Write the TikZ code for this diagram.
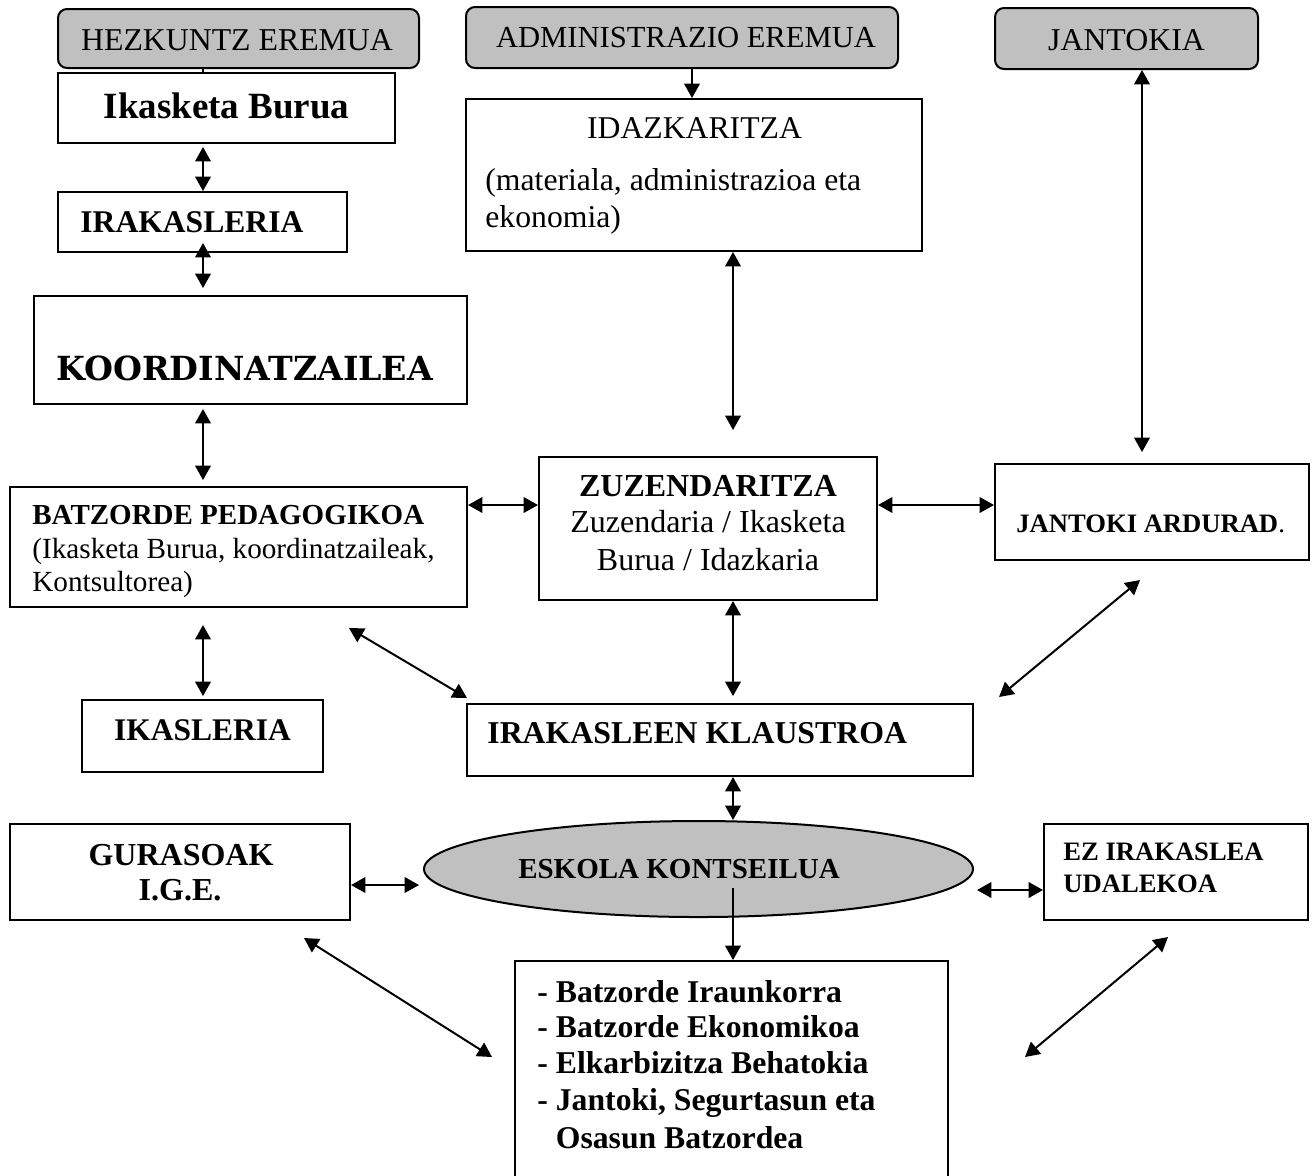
\documentclass[tikz,border=0pt]{standalone}
\usepackage{fontspec}
\setmainfont{Liberation Serif}
\newfontfamily\kfont{DejaVu Serif}
\usetikzlibrary{arrows.meta,shapes.geometric}
\definecolor{hdgray}{HTML}{C0C0C0}
\newcommand\fsz[1]{\fontsize{#1pt}{#1pt}\selectfont}
\begin{document}
\begin{tikzpicture}[x=0.5pt,y=-0.5pt,
  bx/.style 2 args={draw, rectangle, line width=1pt, minimum width=#1*0.5pt, minimum height=#2*0.5pt, inner sep=0pt},
  hd/.style 2 args={bx={#1}{#2}, fill=hdgray, rounded corners=4.5pt},
  el/.style 2 args={draw, ellipse, line width=1pt, fill=hdgray, minimum width=#1*0.5pt, minimum height=#2*0.5pt, inner sep=0pt},
  txc/.style={inner sep=0pt, anchor=base},
  txl/.style={inner sep=0pt, anchor=base west},
  tip/.tip={Triangle[width=7.8pt,length=7.2pt]},
  dbl/.style={line width=1pt, tip-tip},
  sgl/.style={line width=1pt, -tip},
  ln/.style={line width=1pt}]
\useasboundingbox (0,0) rectangle (1315,1175);

% boxes
\node[hd={361}{59}] (hez) at (238.5,38.5) {};
\node[hd={432}{61}] (adm) at (682,37.5) {};
\node[hd={263}{61}] (jan) at (1126.5,38.5) {};
\node[bx={337}{70}] (ikb) at (226.5,108) {};
\node[bx={289}{60}] (irak) at (202.5,222) {};
\node[bx={456}{152}] (idaz) at (694,175) {};
\node[bx={433}{108}] (koord) at (250.5,350) {};
\node[bx={457}{120}] (batz) at (238.5,547) {};
\node[bx={338}{143}] (zuz) at (708,528.5) {};
\node[bx={314}{96}] (jard) at (1152,512) {};
\node[bx={241}{72}] (ikas) at (202.5,736) {};
\node[bx={506}{72}] (klaus) at (720,740) {};
\node[el={549}{96}] (esk) at (698.5,869) {};
\node[bx={340}{96}] (gur) at (180,872) {};
\node[bx={264}{96}] (ez) at (1176,872) {};
\node[bx={433}{224}] (list) at (731.5,1073) {};

% texts
\node[txc] (thez) at (237,50) {\fsz{15.9}HEZKUNTZ EREMUA};
\node[txc] (tadm) at (686,47) {\fsz{15.3}ADMINISTRAZIO EREMUA};
\node[txc] (tjan) at (1126.5,50) {\fsz{15.9}JANTOKIA};
\node[txc] (tikb) at (226.5,118) {\fsz{18.5}\bfseries Ikasketa Burua};
\node[txl] (tirak) at (80,232) {\fsz{15.8}\bfseries IRAKASLERIA};
\node[txc] (tidaz) at (694.5,138) {\fsz{15.85}IDAZKARITZA};
\node[txl] (tidaz2) at (485,190) {\fsz{15.85}(materiala, administrazioa eta};
\node[txl] (tidaz3) at (485,227) {\fsz{15.85}ekonomia)};
\node[txl] (tkoord) at (56,380) {\fsz{16.6}\kfont\bfseries KOORDINATZAILEA};
\node[txl] (tbatz) at (32,524) {\fsz{14.5}\bfseries BATZORDE PEDAGOGIKOA};
\node[txl] (tbatz2) at (32,558) {\fsz{14.6}(Ikasketa Burua, koordinatzaileak,};
\node[txl] (tbatz3) at (32,591) {\fsz{14.6}Kontsultorea)};
\node[txc] (tzuz) at (708,496) {\fsz{16}\bfseries ZUZENDARITZA};
\node[txc] (tzuz2) at (708,532) {\fsz{16}Zuzendaria / Ikasketa};
\node[txc] (tzuz3) at (708,570) {\fsz{16}Burua / Idazkaria};
\node[txl] (tjard) at (1016,532) {\fsz{13.3}{\bfseries JANTOKI ARDURAD}.};
\node[txc] (tikas) at (202.5,740) {\fsz{15.75}\bfseries IKASLERIA};
\node[txl] (tklaus) at (487,743) {\fsz{15.9}\bfseries IRAKASLEEN KLAUSTROA};
\node[txc] (tesk) at (679,878) {\fsz{14.5}\bfseries ESKOLA KONTSEILUA};
\node[txc] (tgur) at (181,865) {\fsz{16}\bfseries GURASOAK};
\node[txc] (tgur2) at (180,900) {\fsz{16}\bfseries I.G.E.};
\node[txl] (tez) at (1063,860) {\fsz{13.3}\bfseries EZ IRAKASLEA};
\node[txl] (tez2) at (1063,892) {\fsz{13.3}\bfseries UDALEKOA};
\node[txl] (tl1) at (537,1002) {\fsz{15.85}\bfseries - Batzorde Iraunkorra};
\node[txl] (tl2) at (537,1037) {\fsz{15.85}\bfseries - Batzorde Ekonomikoa};
\node[txl] (tl3) at (537,1073) {\fsz{15.85}\bfseries - Elkarbizitza Behatokia};
\node[txl] (tl4) at (537,1110) {\fsz{15.85}\bfseries - Jantoki, Segurtasun eta};
\node[txl] (tl5) at (537,1148) {\fsz{15.85}\bfseries \phantom{- }Osasun Batzordea};

% helper coordinates
\coordinate (cA) at (203,0);
\coordinate (cB) at (733,0);
\coordinate (cJ) at (1142,0);
\coordinate (cD) at (692,0);
\coordinate (r5) at (0,505);
\coordinate (a2s) at (203,147);
\coordinate (a3s) at (203,243);
\coordinate (a3e) at (203,288);
\coordinate (a4s) at (203,409);
\coordinate (a4e) at (203,480);
\coordinate (a8e) at (733,430);
\coordinate (a9e) at (1142,452);
\coordinate (a10e) at (733,696);
\coordinate (a11s) at (349,628);
\coordinate (a11e) at (467,698);
\coordinate (a12s) at (1140,580);
\coordinate (a12e) at (999,697);
\coordinate (a13s) at (203,625);
\coordinate (a13e) at (203,696);
\coordinate (a15) at (0,885);
\coordinate (a15e) at (419,885);
\coordinate (a16s) at (977,890);
\coordinate (a17s) at (733,888);
\coordinate (a18s) at (304,938);
\coordinate (a18e) at (492,1057);
\coordinate (a19s) at (1168,937);
\coordinate (a19e) at (1025,1057);

% connectors
\draw[ln] (hez.south -| cA) -- (ikb.north -| cA);
\draw[dbl] (a2s) -- (irak.north -| cA);
\draw[dbl] (a3s) -- (a3e);
\draw[dbl] (a4s) -- (a4e);
\draw[dbl] (batz.east |- r5) -- (zuz.west |- r5);
\draw[dbl] (zuz.east |- r5) -- (jard.west |- r5);
\draw[sgl] (adm.south -| cD) -- (idaz.north -| cD);
\draw[dbl] (idaz.south -| cB) -- (a8e);
\draw[dbl] (jan.south -| cJ) -- (a9e);
\draw[dbl] (zuz.south -| cB) -- (a10e);
\draw[dbl] (a11s) -- (a11e);
\draw[dbl] (a12s) -- (a12e);
\draw[dbl] (a13s) -- (a13e);
\draw[dbl] (klaus.south -| cB) -- (esk.north -| cB);
\draw[dbl] (gur.east |- a15) -- (a15e);
\draw[dbl] (a16s) -- (ez.west |- a16s);
\draw[sgl] (a17s) -- (list.north -| cB);
\draw[dbl] (a18s) -- (a18e);
\draw[dbl] (a19s) -- (a19e);
\end{tikzpicture}
\end{document}
